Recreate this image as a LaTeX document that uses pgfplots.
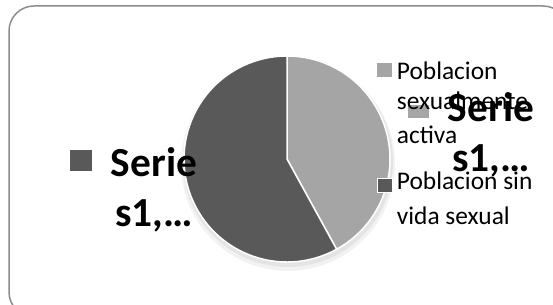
\documentclass[border=0pt]{standalone}
\usepackage{pgfplots}
\pgfplotsset{compat=1.18}
\usepackage{pgfplotstable}
\usepackage{fontspec}
\setmainfont{Carlito}
\definecolor{lightslice}{HTML}{A5A5A5}
\definecolor{darkslice}{HTML}{595959}
\definecolor{framec}{HTML}{8C8C8C}
\pgfplotstableread{
name value
activa 42
sin 58
}\piedata
\begin{document}
\begin{tikzpicture}
\useasboundingbox (0,0) rectangle (553bp,305bp);
\pgfplotstablegetelem{0}{value}\of\piedata
\pgfmathsetmacro{\endA}{90-3.6*\pgfplotsretval}
\pgfplotstablegetelem{1}{value}\of\piedata
\pgfmathsetmacro{\endB}{\endA-3.6*\pgfplotsretval}
\begin{axis}[width=553bp,height=305bp,scale only axis,hide axis,
  xmin=0,xmax=553,ymin=0,ymax=305,clip=false,anchor=south west,at={(0,0)}]
% frame
\draw[framec, line width=1.5bp, rounded corners=25bp] (axis cs:9,299) rectangle (axis cs:568,-12);
% shadow
\fill[black, opacity=0.05] (axis cs:288,141) circle[radius=107bp];
\fill[black, opacity=0.06] (axis cs:288,143) circle[radius=105bp];
% slices
\fill[lightslice, draw=white, line width=1.5bp] (axis cs:287,146) -- ++(90:103bp)
   arc[start angle=90,end angle=\endA,radius=103bp] -- cycle;
\fill[darkslice, draw=white, line width=1.5bp] (axis cs:287,146) -- ++(\endA:103bp)
   arc[start angle=\endA,end angle=\endB,radius=103bp] -- cycle;
% data label markers (behind legend text)
\fill[lightslice] (axis cs:408,200) rectangle (axis cs:429,187);
\fill[darkslice] (axis cs:70,155) rectangle (axis cs:91.7,134.3);
% legend
\fill[lightslice] (axis cs:377,242) rectangle (axis cs:392,228);
\fill[darkslice, draw=white, line width=0.6bp] (axis cs:377,127) rectangle (axis cs:392,113);
\node[anchor=base west, inner sep=0pt, font=\fontsize{25.5}{30}\selectfont] at (axis cs:396.7,225.7) {Poblacion};
\node[anchor=base west, inner sep=0pt, font=\fontsize{25.5}{30}\selectfont] at (axis cs:396.7,195) {sexualmente};
\node[anchor=base west, inner sep=0pt, font=\fontsize{25.5}{30}\selectfont] at (axis cs:396.7,161.7) {activa};
\node[anchor=base west, inner sep=0pt, font=\fontsize{25.5}{30}\selectfont] at (axis cs:396.7,115) {Poblacion sin};
\node[anchor=base west, inner sep=0pt, font=\fontsize{25.5}{30}\selectfont] at (axis cs:396.7,80) {vida sexual};
% data labels
\node[anchor=base, inner sep=0pt, font=\bfseries\fontsize{41.5}{49}\selectfont] at (axis cs:491,183) {Serie};
\node[anchor=base, inner sep=0pt, font=\bfseries\fontsize{41.5}{49}\selectfont] at (axis cs:491,133.3) {s1,…};
\node[anchor=base, inner sep=0pt, font=\bfseries\fontsize{41.5}{49}\selectfont] at (axis cs:154,128.3) {Serie};
\node[anchor=base, inner sep=0pt, font=\bfseries\fontsize{41.5}{49}\selectfont] at (axis cs:154,78.3) {s1,…};
\end{axis}
\end{tikzpicture}
\end{document}
